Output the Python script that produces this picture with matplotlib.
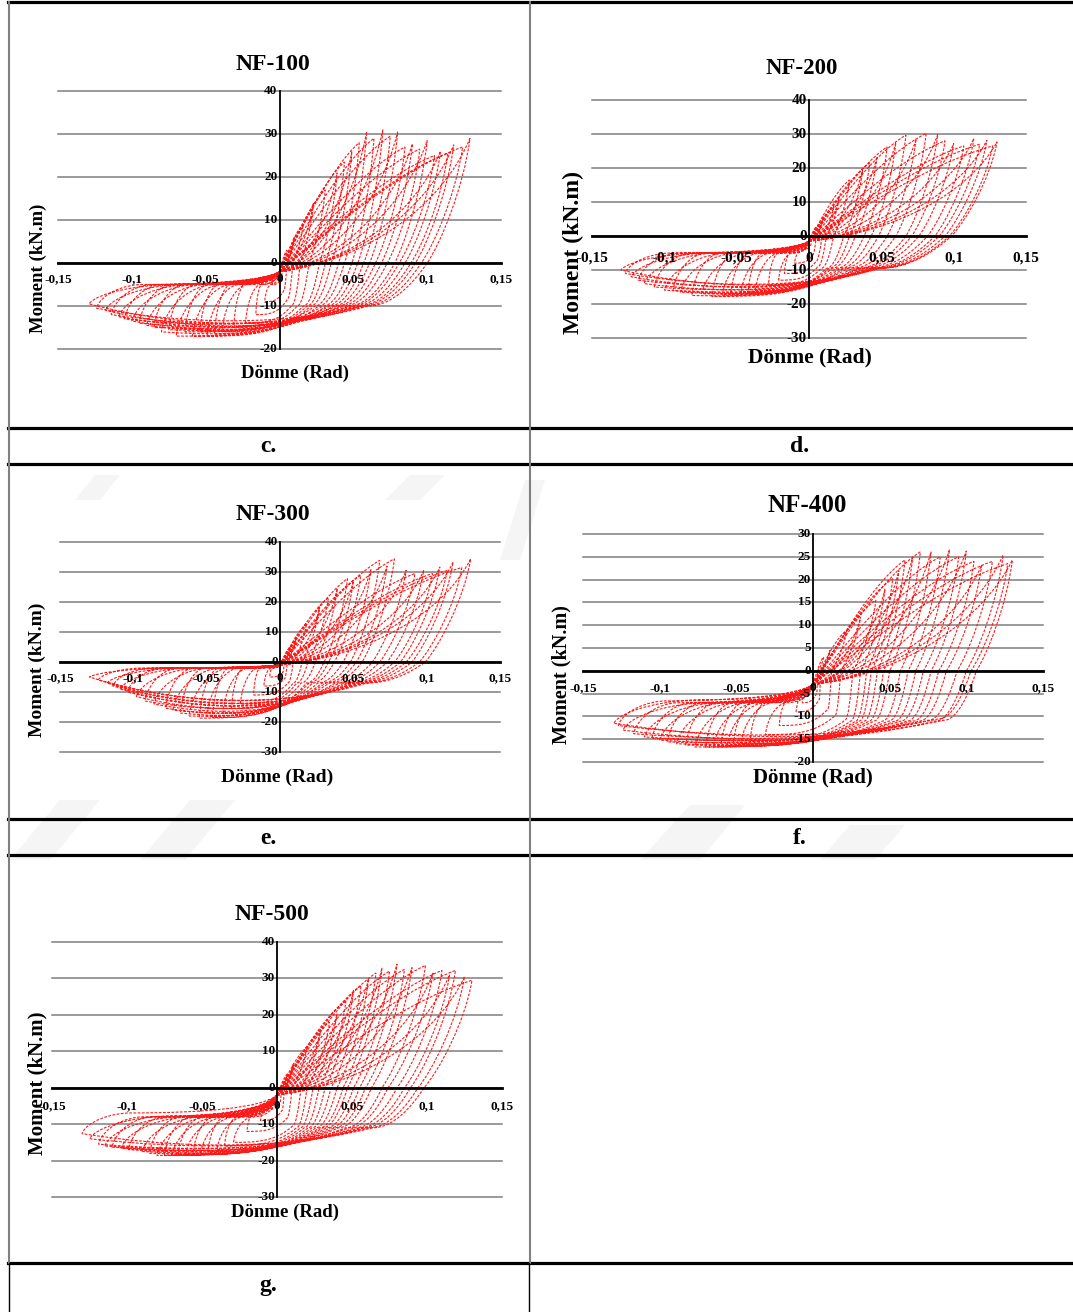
import matplotlib
matplotlib.use("Agg")
import matplotlib.pyplot as plt
import matplotlib.transforms as mtransforms
from matplotlib.path import Path
from matplotlib.patches import PathPatch, Polygon

plt.rcParams['font.family'] = ['Liberation Serif', 'DejaVu Serif']
plt.rcParams['font.weight'] = 'bold'

W, H = 1073, 1312

# eksen etiketleri
x_ticks = [-0.15, -0.1, -0.05, 0, 0.05, 0.1, 0.15]
x_tick_labels = ['-0,15', '-0,1', '-0,05', '0', '0,05', '0,1', '0,15']

# NF-100 cevrimleri (tepe noktalari)
nf100_pos_rot = [0.005, 0.010, 0.016, 0.023, 0.031, 0.039, 0.044, 0.049, 0.054, 0.059, 0.064, 0.070,
                 0.075, 0.080, 0.085, 0.090, 0.095, 0.100, 0.105, 0.109, 0.114, 0.118, 0.124, 0.129]
nf100_pos_mom = [3, 6, 9, 14, 17, 21, 23.5, 26, 28, 30.5, 29, 31,
                 29.5, 30.5, 27, 27.7, 26.5, 28.5, 25, 26, 25.5, 27.5, 27, 29]
nf100_zero_rot = [0.002, 0.005, 0.009, 0.014, 0.020, 0.027, 0.031, 0.035, 0.040, 0.044, 0.049, 0.053,
                  0.057, 0.061, 0.065, 0.069, 0.073, 0.078, 0.081, 0.085, 0.089, 0.092, 0.096, 0.100]
nf100_neg_rot = [-0.005, -0.010, -0.016, -0.023, -0.031, -0.039, -0.044, -0.049, -0.054, -0.059, -0.064, -0.070,
                 -0.075, -0.080, -0.085, -0.090, -0.095, -0.100, -0.105, -0.109, -0.114, -0.118, -0.124, -0.129]
nf100_neg_mom = [-5, -9, -12, -14, -15, -16, -16.5, -17, -16, -17, -16, -17,
                 -15.5, -16, -15, -14.5, -14, -13.5, -13, -12.5, -12, -11, -10.5, -9.5]
nf100_low_mom = [-5, -9, -12, -14, -15, -16, -16.5, -17, -16, -17, -16, -17,
                 -16, -17, -15.5, -16.5, -15.5, -16.5, -15, -16, -15, -16, -14.5, -15.5]

# NF-200
nf200_pos_rot = [0.005, 0.010, 0.017, 0.021, 0.028, 0.037, 0.042, 0.047, 0.054, 0.060, 0.067,
                 0.074, 0.081, 0.089, 0.094, 0.100, 0.107, 0.114, 0.118, 0.123, 0.127, 0.130]
nf200_pos_mom = [2.7, 5.7, 8.6, 11.6, 16.5, 19.4, 21.5, 23.3, 26.2, 27.5, 29.7,
                 28.5, 30.2, 29.9, 28, 27.2, 26.5, 28.7, 27, 28.2, 26.5, 27.7]
nf200_zero_rot = [0.002, 0.005, 0.009, 0.012, 0.017, 0.024, 0.028, 0.032, 0.038, 0.043, 0.048,
                  0.054, 0.060, 0.067, 0.071, 0.076, 0.082, 0.087, 0.090, 0.094, 0.097, 0.0985]
nf200_neg_rot = [-0.005, -0.010, -0.017, -0.021, -0.028, -0.037, -0.042, -0.047, -0.054, -0.060, -0.067,
                 -0.074, -0.081, -0.089, -0.094, -0.100, -0.107, -0.114, -0.118, -0.123, -0.127, -0.130]
nf200_neg_mom = [-4, -8, -11, -13, -14.5, -16, -16.3, -16.5, -17, -17.3, -17.8,
                 -17, -17.5, -16.5, -16, -15.9, -15, -14, -13, -12, -11, -10]
nf200_low_mom = [-4, -8, -11, -13, -14.5, -16, -16.3, -16.5, -17, -17.3, -17.8,
                 -17.2, -17.8, -17.5, -17, -17.5, -16.5, -17, -16, -16.5, -15.5, -16]

# NF-300
nf300_pos_rot = [0.007, 0.011, 0.018, 0.027, 0.033, 0.039, 0.046, 0.050, 0.055, 0.062, 0.068,
                 0.073, 0.078, 0.086, 0.092, 0.098, 0.104, 0.109, 0.114, 0.118, 0.124, 0.130]
nf300_pos_mom = [5.1, 8.4, 12.8, 18.4, 21.5, 24.5, 27.8, 27, 28.9, 31, 33.9,
                 32, 34.4, 30.6, 29.5, 30.6, 29.5, 31.7, 30.5, 33.3, 31.5, 34.4]
nf300_zero_rot = [0.003, 0.005, 0.009, 0.015, 0.019, 0.024, 0.030, 0.033, 0.037, 0.043, 0.048,
                  0.052, 0.056, 0.063, 0.068, 0.073, 0.078, 0.082, 0.086, 0.090, 0.095, 0.099]
nf300_neg_rot = [-0.007, -0.011, -0.018, -0.027, -0.033, -0.039, -0.046, -0.050, -0.055, -0.062, -0.068,
                 -0.073, -0.078, -0.086, -0.092, -0.098, -0.104, -0.109, -0.114, -0.118, -0.124, -0.130]
nf300_neg_mom = [-5, -8, -11, -14, -15.5, -17, -18.5, -18, -18.7, -18, -17,
                 -16, -15.4, -14, -13, -11.5, -10, -9, -8, -7, -6, -5]
nf300_low_mom = [-5, -8, -11, -14, -15.5, -17, -18.5, -18, -18.7, -18.3, -18.7,
                 -18, -18.5, -18, -17, -17.5, -16.5, -17, -16, -16, -15, -15]

# NF-400
nf400_pos_rot = [0.007, 0.011, 0.022, 0.031, 0.041, 0.047, 0.052, 0.056, 0.060, 0.065, 0.070,
                 0.077, 0.083, 0.089, 0.095, 0.100, 0.105, 0.110, 0.117, 0.124, 0.127, 0.130]
nf400_pos_mom = [3, 4.5, 8.9, 11.8, 15.5, 18, 20.2, 22, 24.3, 25, 26.1,
                 26.1, 25, 26.6, 25, 26.3, 24, 23.2, 24, 25.4, 23.5, 24.3]
nf400_zero_rot = [0.003, 0.005, 0.012, 0.018, 0.026, 0.031, 0.035, 0.038, 0.042, 0.046, 0.050,
                  0.057, 0.062, 0.067, 0.072, 0.077, 0.082, 0.087, 0.094, 0.100, 0.103, 0.1066]
nf400_neg_rot = [-0.007, -0.011, -0.022, -0.031, -0.041, -0.047, -0.052, -0.056, -0.060, -0.065, -0.070,
                 -0.077, -0.083, -0.089, -0.095, -0.100, -0.105, -0.110, -0.117, -0.124, -0.127, -0.130]
nf400_neg_mom = [-7, -9, -12, -14, -15.5, -16, -16.3, -16.4, -16.5, -16.6, -16.7,
                 -16.7, -16.3, -16, -15.6, -15.2, -14.8, -14.5, -13.8, -13, -12, -11.5]
nf400_low_mom = [-7, -9, -12, -14, -15.5, -16, -16.3, -16.4, -16.5, -16.6, -16.7,
                 -16.7, -16.5, -16.5, -16, -16.5, -15.8, -16, -15.5, -16, -15, -15.5]

# NF-500
nf500_pos_rot = [0.007, 0.011, 0.020, 0.029, 0.035, 0.040, 0.046, 0.051, 0.056, 0.061, 0.066, 0.070,
                 0.075, 0.080, 0.085, 0.090, 0.099, 0.104, 0.110, 0.115, 0.119, 0.125, 0.130]
nf500_pos_mom = [3.8, 6.6, 11.2, 15.7, 18, 20.3, 24, 26.7, 28, 29.9, 31.5, 32.9,
                 32, 34, 32.5, 33, 33.6, 31.5, 32.2, 31, 32.2, 30.5, 29.5]
nf500_zero_rot = [0.003, 0.005, 0.010, 0.016, 0.020, 0.024, 0.028, 0.032, 0.036, 0.040, 0.044, 0.047,
                  0.051, 0.055, 0.059, 0.063, 0.070, 0.074, 0.080, 0.085, 0.089, 0.094, 0.098]
nf500_neg_rot = [-0.007, -0.011, -0.020, -0.029, -0.035, -0.040, -0.046, -0.051, -0.056, -0.061, -0.066, -0.070,
                 -0.075, -0.080, -0.085, -0.090, -0.099, -0.104, -0.110, -0.115, -0.119, -0.125, -0.130]
nf500_neg_mom = [-6, -9, -12, -15, -16, -17, -17.6, -18.1, -18.2, -18.3, -18.4, -18.5,
                 -18.5, -18.6, -18, -17.5, -17, -16.6, -16.3, -16, -15.5, -14, -12.6]
nf500_low_mom = [-6, -9, -12, -15, -16, -17, -17.6, -18.1, -18.2, -18.3, -18.4, -18.5,
                 -18.5, -18.6, -18.5, -18.5, -18.3, -18, -18, -17.5, -17.5, -17, -17]

charts = [
    dict(name='NF-100', pos_rot=nf100_pos_rot, pos_mom=nf100_pos_mom, zero_rot=nf100_zero_rot,
         neg_rot=nf100_neg_rot, neg_mom=nf100_neg_mom, low_mom=nf100_low_mom,
         knee_frac=0.6, knee=-10, plat=-5, pinch=-2,
         box=(58, 501, 91, 349), ylim=(-20, 40), step=10,
         title=(273, 65, 17), ylab=(38, 268, 13.5), xlab=(295, 373, 13.5), tick_fs=9.5, xoff=16),
    dict(name='NF-200', pos_rot=nf200_pos_rot, pos_mom=nf200_pos_mom, zero_rot=nf200_zero_rot,
         neg_rot=nf200_neg_rot, neg_mom=nf200_neg_mom, low_mom=nf200_low_mom,
         knee_frac=0.5, knee=-9.5, plat=-5, pinch=-1.5,
         box=(592, 1026, 100, 338), ylim=(-30, 40), step=10,
         title=(802, 68, 16.5), ylab=(573, 253, 17), xlab=(810, 357, 15.5), tick_fs=11, xoff=22),
    dict(name='NF-300', pos_rot=nf300_pos_rot, pos_mom=nf300_pos_mom, zero_rot=nf300_zero_rot,
         neg_rot=nf300_neg_rot, neg_mom=nf300_neg_mom, low_mom=nf300_low_mom,
         knee_frac=0.6, knee=-7, plat=-2, pinch=-1,
         box=(60, 500, 542, 752), ylim=(-30, 40), step=10,
         title=(273, 515, 17), ylab=(37, 670, 14), xlab=(277, 777, 14), tick_fs=9.5, xoff=16),
    dict(name='NF-400', pos_rot=nf400_pos_rot, pos_mom=nf400_pos_mom, zero_rot=nf400_zero_rot,
         neg_rot=nf400_neg_rot, neg_mom=nf400_neg_mom, low_mom=nf400_low_mom,
         knee_frac=0.8, knee=-11, plat=-7, pinch=-3,
         box=(583, 1043, 534, 762), ylim=(-20, 30), step=5,
         title=(807, 505, 18), ylab=(561, 675, 14.5), xlab=(813, 777, 15), tick_fs=9.5, xoff=17),
    dict(name='NF-500', pos_rot=nf500_pos_rot, pos_mom=nf500_pos_mom, zero_rot=nf500_zero_rot,
         neg_rot=nf500_neg_rot, neg_mom=nf500_neg_mom, low_mom=nf500_low_mom,
         knee_frac=0.65, knee=-11, plat=-8, pinch=-2,
         box=(52, 502, 942, 1197), ylim=(-30, 40), step=10,
         title=(272, 915, 17), ylab=(37, 1083, 15), xlab=(285, 1212, 13.5), tick_fs=9.5, xoff=18),
]


def cycle_verts(i, xp, mp, xz, xn, mn, low, kf, knee, plat, pinch):
    # bir cevrim: yukleme -> tepe -> bosaltma -> negatif tepe -> geri donus
    xk = kf * xz
    km = max(knee, 0.7 * low)
    pm = max(plat, 0.55 * mn)
    if i % 2 == 0:
        xu = 0.75 * xn
        r1 = (0.25 * xp, pinch + 0.3 * (mp - pinch))
        r2 = (0.65 * xp, 0.8 * mp)
    else:
        # ikinci cevrim: sikismali (pinching) yukleme
        xu = 0.55 * xn
        r1 = (0.45 * xp, pinch + 0.08 * (mp - pinch))
        r2 = (0.85 * xp, 0.45 * mp)
    return [(0, pinch), r1, r2, (xp, mp),
            (xp - 0.15 * (xp - xz), 0.6 * mp), (xz + 0.3 * (xp - xz), 0.15 * mp), (xz, 0),
            (xz - 0.25 * (xz - xk), 0.5 * km), (xk + 0.4 * (xz - xk), km), (xk, km),
            (xk + 0.3 * (xn - xk), low), (xk + 0.65 * (xn - xk), low), (xn, mn),
            (xn + 0.1 * (xu - xn), mn + 0.6 * (pm - mn)), (xu - 0.4 * (xu - xn), pm), (xu, pm),
            (0.5 * xu, pm), (0.1 * xu, 0.8 * pm), (0, pinch)]


fig = plt.figure(figsize=(W / 100, H / 100), dpi=100)

# soluk filigran seritleri
for poly in [[(10, 860), (50, 860), (100, 800), (60, 800)],
             [(140, 860), (185, 860), (235, 800), (190, 800)],
             [(640, 860), (700, 860), (745, 805), (690, 805)],
             [(820, 860), (875, 860), (905, 825), (850, 825)],
             [(75, 500), (100, 500), (120, 475), (95, 475)],
             [(385, 500), (420, 500), (445, 475), (410, 475)],
             [(500, 560), (520, 560), (545, 480), (525, 480)]]:
    fig.add_artist(Polygon([(x / W, 1 - y / H) for x, y in poly], closed=True,
                           transform=fig.transFigure, facecolor='#f5f5f5', edgecolor='none', zorder=0))

for c in charts:
    x0, x1, yt, yb = c['box']
    ax = fig.add_axes([x0 / W, 1 - yb / H, (x1 - x0) / W, (yb - yt) / H])
    ax.set_xlim(-0.15, 0.15)
    ax.set_ylim(*c['ylim'])
    ax.axis('off')
    yvals = list(range(c['ylim'][0], c['ylim'][1] + 1, c['step']))
    for v in yvals:
        ax.axhline(v, color='#7f7f7f', lw=1.1, clip_on=False, zorder=1)

    verts, codes = [], []
    for i in range(len(c['pos_rot'])):
        v = cycle_verts(i, c['pos_rot'][i], c['pos_mom'][i], c['zero_rot'][i],
                        c['neg_rot'][i], c['neg_mom'][i], c['low_mom'][i],
                        c['knee_frac'], c['knee'], c['plat'], c['pinch'])
        verts += v
        codes += [Path.MOVETO] + [Path.CURVE4] * (len(v) - 1)
    patch = PathPatch(Path(verts, codes), fill=False, edgecolor='#ff1a1a',
                      lw=0.8, linestyle=(0, (2.5, 1.3)), zorder=2)
    ax.add_patch(patch)

    ax.axhline(0, color='black', lw=2, zorder=3, clip_on=False)
    ax.axvline(0, color='black', lw=1.3, zorder=3, clip_on=False)

    ytr = mtransforms.offset_copy(ax.transData, fig=fig, x=-2, y=0, units='dots')
    for v in yvals:
        ax.text(0, v, f'{v:g}', transform=ytr, ha='right', va='center',
                fontsize=c['tick_fs'], fontweight='bold', zorder=4, clip_on=False)
    xtr = mtransforms.offset_copy(ax.transData, fig=fig, x=0, y=-c['xoff'], units='dots')
    for t, lbl in zip(x_ticks, x_tick_labels):
        ax.text(t, 0, lbl, transform=xtr, ha='center', va='center',
                fontsize=c['tick_fs'], fontweight='bold', zorder=4, clip_on=False)

    tx, ty, tfs = c['title']
    fig.text(tx / W, 1 - ty / H, c['name'], ha='center', va='center', fontsize=tfs, fontweight='bold')
    lx, ly, lfs = c['ylab']
    fig.text(lx / W, 1 - ly / H, 'Moment (kN.m)', ha='center', va='center', rotation=90,
             fontsize=lfs, fontweight='bold')
    lx, ly, lfs = c['xlab']
    fig.text(lx / W, 1 - ly / H, 'Dönme (Rad)', ha='center', va='center', fontsize=lfs, fontweight='bold')


# tablo cizgileri
def hline(y, x0=8, x1=1073, lw=2.3, color='black'):
    fig.add_artist(plt.Line2D([x0 / W, x1 / W], [1 - y / H, 1 - y / H], color=color, lw=lw,
                              transform=fig.transFigure))


def vline(x, y0, y1, lw=1.5, color='#808080'):
    fig.add_artist(plt.Line2D([x / W, x / W], [1 - y0 / H, 1 - y1 / H], color=color, lw=lw,
                              transform=fig.transFigure))


for y in [2, 428, 464, 819, 855, 1263]:
    hline(y)
vline(9, 2, 1263)
vline(530, 2, 1263)
vline(9, 1263, 1312, lw=1, color='black')
vline(529, 1263, 1312, lw=1, color='black')

for lbl, x, y in [('c.', 268, 447), ('d.', 800, 447), ('e.', 268, 838), ('f.', 800, 838), ('g.', 268, 1285)]:
    fig.text(x / W, 1 - y / H, lbl, ha='center', va='center', fontsize=17, fontweight='bold')

fig.savefig('out.png', dpi=100)
